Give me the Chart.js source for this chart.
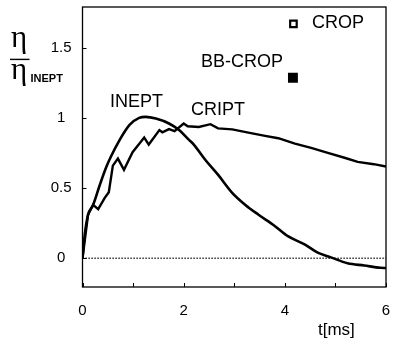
<html>
<head>
<meta charset="utf-8">
<title>INEPT / CRIPT</title>
<style>
  body { margin: 0; background: #fff; }
  #wrap { width: 393px; height: 339px; position: relative; }
</style>
</head>
<body>
<div id="wrap"><canvas id="chart"></canvas></div>
<script src="https://cdn.jsdelivr.net/npm/chart.js"></script>
<script>
  // 讀圖估計的數據
  const ineptT = [0, 0.045, 0.11, 0.21, 0.34, 0.47, 0.57, 0.73, 0.93, 1.12, 1.25, 1.45, 1.71, 1.91, 2.1, 2.2, 2.43, 2.69, 2.95, 3.22, 3.48, 3.8, 4.06, 4.39, 4.65, 4.91, 5.24, 5.57, 5.89, 6.0];
  const ineptV = [0, 0.17, 0.31, 0.38, 0.52, 0.65, 0.73, 0.84, 0.95, 1.0, 1.007, 0.995, 0.96, 0.913, 0.845, 0.81, 0.70, 0.59, 0.47, 0.38, 0.31, 0.23, 0.157, 0.099, 0.04, 0.006, -0.036, -0.052, -0.068, -0.07];

  const criptT = [0, 0.11, 0.21, 0.31, 0.44, 0.52, 0.6, 0.7, 0.82, 0.99, 1.22, 1.31, 1.52, 1.58, 1.71, 1.82, 2.0, 2.08, 2.3, 2.53, 2.68, 2.96, 3.28, 3.61, 3.87, 4.2, 4.52, 4.85, 5.18, 5.44, 5.76, 6.0];
  const criptV = [0, 0.31, 0.38, 0.35, 0.43, 0.47, 0.66, 0.71, 0.63, 0.755, 0.86, 0.81, 0.913, 0.897, 0.92, 0.905, 0.96, 0.94, 0.935, 0.955, 0.925, 0.918, 0.895, 0.872, 0.855, 0.816, 0.786, 0.75, 0.716, 0.686, 0.67, 0.653];

  const cropT = [4.17], cropV = [1.67];
  const bbCropT = [4.16], bbCropV = [1.286];

  const zeroT = [0, 6], zeroV = [0, 0];

  const xTicks = [0, 1, 2, 3, 4, 5, 6];
  const xLabels = [0, 2, 4, 6];
  const yTicks = [0, 0.5, 1, 1.5];

  const pts = (xs, ys) => xs.map((x, i) => ({ x: x, y: ys[i] }));

  // 外框、朝內刻度與文字
  const decor = {
    id: 'decor',
    afterDraw(chart) {
      const { ctx, chartArea: a, scales: { x, y } } = chart;
      ctx.save();
      ctx.strokeStyle = '#000';
      ctx.lineWidth = 1.3;
      ctx.strokeRect(a.left, a.top, a.right - a.left, a.bottom - a.top);
      ctx.lineWidth = 1;
      ctx.beginPath();
      xTicks.forEach(v => {
        const px = Math.round(x.getPixelForValue(v)) + 0.5;
        ctx.moveTo(px, a.bottom); ctx.lineTo(px, a.bottom - 4);
      });
      yTicks.forEach(v => {
        const py = Math.round(y.getPixelForValue(v)) + 0.5;
        ctx.moveTo(a.left, py); ctx.lineTo(a.left + 4, py);
      });
      ctx.stroke();

      ctx.fillStyle = '#000';
      ctx.textBaseline = 'alphabetic';
      ctx.textAlign = 'left';
      ctx.font = '18px "Liberation Sans", Arial, sans-serif';
      ctx.fillText('INEPT', 110, 107);
      ctx.fillText('CRIPT', 191, 115);
      ctx.fillText('CROP', 312, 28);
      ctx.fillText('BB-CROP', 201, 67);
      ctx.font = '17px "Liberation Sans", Arial, sans-serif';
      ctx.fillText('t[ms]', 318, 335);

      // η / η_INEPT
      ctx.font = '31px "Liberation Serif", "DejaVu Serif", serif';
      ctx.fillText('η', 11, 47);
      ctx.fillText('η', 11, 79);
      ctx.fillRect(10, 58.7, 19.5, 1.4);
      ctx.font = 'bold 11px "Liberation Sans", Arial, sans-serif';
      ctx.fillText('INEPT', 30.5, 82);
      ctx.restore();
    }
  };

  new Chart(document.getElementById('chart'), {
    type: 'scatter',
    data: {
      datasets: [
        {
          label: 'INEPT',
          data: pts(ineptT, ineptV),
          showLine: true,
          borderColor: '#000',
          borderWidth: 2.6,
          pointRadius: 0,
          cubicInterpolationMode: 'monotone'
        },
        {
          label: 'CRIPT',
          data: pts(criptT, criptV),
          showLine: true,
          borderColor: '#000',
          borderWidth: 2.4,
          pointRadius: 0,
          tension: 0
        },
        {
          label: 'zero',
          data: pts(zeroT, zeroV),
          showLine: true,
          borderColor: '#000',
          borderWidth: 1.5,
          borderDash: [1.2, 1.8],
          pointRadius: 0
        },
        {
          label: 'CROP',
          data: pts(cropT, cropV),
          pointStyle: 'rect',
          pointRadius: 4.6,
          borderWidth: 2.2,
          borderColor: '#000',
          backgroundColor: '#fff'
        },
        {
          label: 'BB-CROP',
          data: pts(bbCropT, bbCropV),
          pointStyle: 'rect',
          pointRadius: 7,
          borderWidth: 0,
          backgroundColor: '#000'
        }
      ]
    },
    options: {
      responsive: true,
      maintainAspectRatio: false,
      animation: false,
      layout: { padding: { top: 1.5, right: 3.5, left: 0, bottom: 0 } },
      plugins: {
        legend: { display: false },
        tooltip: { enabled: false }
      },
      scales: {
        x: {
          type: 'linear',
          min: 0,
          max: 6,
          grid: { display: false, drawTicks: false },
          border: { display: false },
          afterBuildTicks: s => { s.ticks = xTicks.map(v => ({ value: v })); },
          afterFit: s => { s.height = 52; s.paddingLeft = 0; s.paddingRight = 0; },
          ticks: {
            autoSkip: false,
            maxRotation: 0,
            padding: 15,
            color: '#000',
            font: { family: '"Liberation Sans", Arial, sans-serif', size: 15 },
            callback: v => xLabels.includes(v) ? String(v) : ''
          }
        },
        y: {
          type: 'linear',
          min: -0.205,
          max: 1.79,
          grid: { display: false, drawTicks: false },
          border: { display: false },
          afterBuildTicks: s => { s.ticks = yTicks.map(v => ({ value: v })); },
          afterFit: s => { s.width = 82.5; s.paddingTop = 0; s.paddingBottom = 0; },
          ticks: {
            autoSkip: false,
            crossAlign: 'center',
            padding: 11,
            color: '#000',
            font: { family: '"Liberation Sans", Arial, sans-serif', size: 15 },
            callback: v => String(v)
          }
        }
      }
    },
    plugins: [decor]
  });
</script>
</body>
</html>
